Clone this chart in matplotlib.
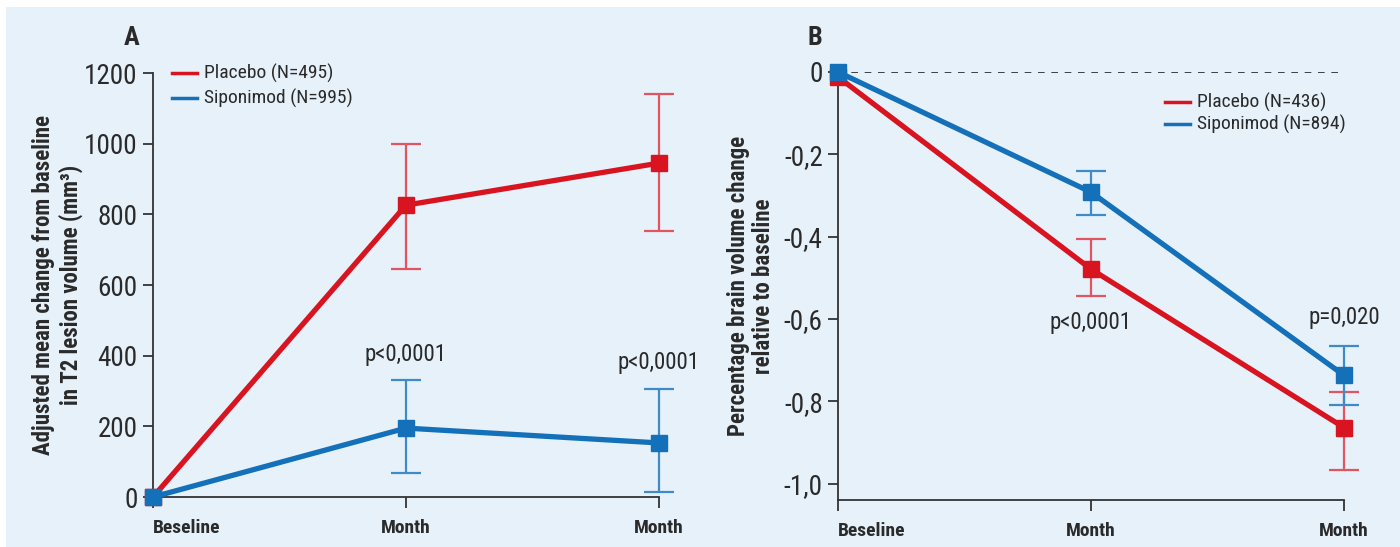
import numpy as np
import matplotlib.pyplot as plt
from matplotlib.patches import Rectangle

plt.rcParams['font.family'] = ['Roboto Condensed', 'Liberation Sans Narrow', 'Roboto', 'DejaVu Sans']

# 数据
x_labels = ['Beseline', 'Month', 'Month']
x_pos = [0, 1, 2]

# A: T2 lesion volume
a_placebo = [0, 826, 945]
a_placebo_lo = [0, 645, 753]
a_placebo_hi = [0, 1000, 1141]
a_sipo = [0, 195, 153]
a_sipo_lo = [0, 68, 14]
a_sipo_hi = [0, 331, 306]
a_pvals = ['p<0,0001', 'p<0,0001']

# B: brain volume change
b_placebo = [-0.012, -0.479, -0.864]
b_placebo_lo = [-0.012, -0.545, -0.968]
b_placebo_hi = [-0.012, -0.406, -0.778]
b_sipo = [0.0, -0.292, -0.737]
b_sipo_lo = [0.0, -0.348, -0.810]
b_sipo_hi = [0.0, -0.241, -0.667]
b_pvals = ['p<0,0001', 'p=0,020']

red = '#d7141f'
blue = '#1370b9'
red_err = '#e05560'
blue_err = '#3d8bcb'
bg = '#e7f1fa'
axc = '#333333'
txt = '#2a2a2a'

fig = plt.figure(figsize=(14, 5.47), dpi=100)
fig.patches.append(Rectangle((6 / 1400, 0), 1, 1 - 7 / 547, transform=fig.transFigure,
                             facecolor=bg, edgecolor='none', zorder=-5))


def draw(ax, vals, lo, hi, color, ecolor):
    vals = np.array(vals)
    yerr = [vals - np.array(lo), np.array(hi) - vals]
    ax.errorbar(x_pos[1:], vals[1:], yerr=[yerr[0][1:], yerr[1][1:]], fmt='none',
                ecolor=ecolor, elinewidth=1.6, capsize=11, capthick=1.6, zorder=2, clip_on=False)
    ax.plot(x_pos, vals, color=color, lw=3.8, marker='s', ms=11.5, zorder=3, clip_on=False)


def style(ax):
    ax.set_facecolor('none')
    for s in ['top', 'right']:
        ax.spines[s].set_visible(False)
    for s in ['left', 'bottom']:
        ax.spines[s].set_color(axc)
        ax.spines[s].set_linewidth(1.3)
    ax.tick_params(axis='y', labelsize=19.5, length=7, width=1.3, color=axc, labelcolor=txt, pad=4)
    ax.tick_params(axis='x', labelsize=14, length=8, width=1.3, color=axc, labelcolor=txt, pad=8)
    ax.set_xticks(x_pos)
    ax.set_xticklabels(x_labels, fontweight='bold')
    ax.get_xticklabels()[0].set_horizontalalignment('left')
    ax.set_xlim(0, 2)


# 图A
axA = fig.add_axes([153 / 1400, 1 - 497 / 547, (659 - 153) / 1400, (497 - 73) / 547])
style(axA)
draw(axA, a_placebo, a_placebo_lo, a_placebo_hi, red, red_err)
draw(axA, a_sipo, a_sipo_lo, a_sipo_hi, blue, blue_err)
axA.set_ylim(0, 1200)
axA.set_yticks(range(0, 1201, 200))
axA.set_ylabel('Adjusted mean change from baseline\nin T2 lesion volume (mm³)', fontsize=16.5,
               fontweight='bold', labelpad=1, linespacing=1.15, color=txt)
axA.text(1, 402, a_pvals[0], ha='center', va='center', fontsize=16.5, color=txt)
axA.text(2, 382, a_pvals[1], ha='center', va='center', fontsize=16.5, color=txt)
fig.text(132 / 1400, 1 - 38 / 547, 'A', fontsize=19, fontweight='bold', ha='center', va='center',
         color=txt)

# 图B
axB = fig.add_axes([838 / 1400, 1 - 500 / 547, (1344 - 838) / 1400, (500 - 72) / 547])
style(axB)
axB.plot([0, 2], [0, 0], ls=(0, (4, 4)), color='#222222', lw=1.2, zorder=1)
draw(axB, b_placebo, b_placebo_lo, b_placebo_hi, red, red_err)
draw(axB, b_sipo, b_sipo_lo, b_sipo_hi, blue, blue_err)
axB.set_ylim(-1.04, 0)
axB.set_yticks([0, -0.2, -0.4, -0.6, -0.8, -1.0])
axB.set_yticklabels(['0', '-0,2', '-0,4', '-0,6', '-0,8', '-1,0'])
axB.set_ylabel('Percentage brain volume change\nrelative to baseline', fontsize=16.5,
               fontweight='bold', labelpad=6, linespacing=1.15, color=txt)
axB.text(1, -0.608, b_pvals[0], ha='center', va='center', fontsize=16.5, color=txt)
axB.text(2, -0.596, b_pvals[1], ha='center', va='center', fontsize=16.5, color=txt)
fig.text(815 / 1400, 1 - 38 / 547, 'B', fontsize=19, fontweight='bold', ha='center', va='center',
         color=txt)


# 图例
def legend_rows(x0, y0, labels, colors, step):
    for i, (lab, c) in enumerate(zip(labels, colors)):
        y = 1 - (y0 + i * step) / 547
        fig.add_artist(plt.Line2D([x0 / 1400, (x0 + 25) / 1400], [y, y], color=c, lw=2.5,
                                  transform=fig.transFigure))
        fig.text((x0 + 32) / 1400, y, lab, fontsize=14, va='center', ha='left', color=txt)


legend_rows(172, 73, ['Placebo (N=495)', 'Siponimod (N=995)'], [red, blue], 25)
legend_rows(1165, 102, ['Placebo (N=436)', 'Siponimod (N=894)'], [red, blue], 22)

fig.savefig('out.png', dpi=100, facecolor='white')
